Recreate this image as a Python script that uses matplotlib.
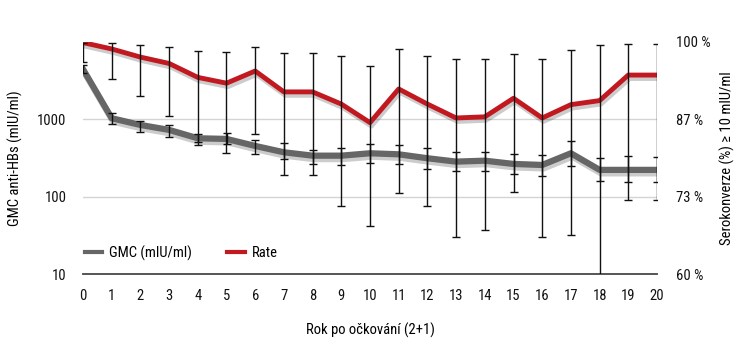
import numpy as np
import matplotlib
matplotlib.use('Agg')
import matplotlib.pyplot as plt
import matplotlib.patheffects as pe
from matplotlib import font_manager

names = {f.name for f in font_manager.fontManager.ttflist}
fam = [n for n in ['Liberation Sans Narrow', 'DejaVu Sans Condensed', 'Roboto Condensed',
                   'Liberation Sans'] if n in names]
plt.rcParams['font.family'] = fam + ['DejaVu Sans']
plt.rcParams['font.stretch'] = 'condensed'

years = list(range(21))

# GMC anti-HBs (mIU/ml) with lower / upper limits
gmc = [4450, 1033, 846, 730, 569, 558, 453, 375, 339, 339, 364,
       353, 314, 284, 292, 265, 257, 364, 222, 222, 222]
gmc_lo = [3948, 880, 693, 597, 467, 476, 357, 307, 267, 259, 275,
          267, 228, 215, 215, 197, 187, 252, 161, 156, 154]
gmc_hi = [5058, 1221, 962, 847, 647, 673, 541, 495, 405, 430, 481,
          471, 430, 382, 382, 360, 346, 526, 320, 336, 326]

# seroconversion rate (%) with lower / upper limits
rate = [99.9, 98.8, 97.4, 96.3, 93.9, 92.9, 95.0, 91.4, 91.4, 89.3, 86.1,
        91.9, 89.3, 86.9, 87.1, 90.3, 86.9, 89.2, 89.9, 94.3, 94.3]
rate_lo = [96.6, 93.7, 90.7, 87.3, 82.8, 80.9, 84.2, 77.0, 77.0, 71.8, 68.2,
           74.0, 71.8, 66.4, 67.5, 74.2, 66.4, 66.8, 58.0, 72.8, 72.8]
rate_hi = [99.9, 99.8, 99.5, 99.1, 98.5, 98.2, 99.1, 98.1, 98.1, 97.6, 95.9,
           98.8, 97.6, 97.0, 97.0, 97.9, 97.0, 98.6, 99.5, 99.6, 99.6]

gmc = np.array(gmc)
rate = np.array(rate)
gmc_err = [gmc - np.array(gmc_lo), np.array(gmc_hi) - gmc]
rate_err = [rate - np.array(rate_lo), np.array(rate_hi) - rate]

fig = plt.figure(figsize=(7.45, 3.38), dpi=100)
ax = fig.add_axes([83 / 745, 1 - 274 / 338, 574 / 745, 232 / 338])
ax2 = ax.twinx()

shadow = [pe.SimpleLineShadow(offset=(1, -2.5), alpha=0.2, shadow_color='k'), pe.Normal()]

ax.set_yscale('log')
ax.set_ylim(10, 10000)
ax.set_xlim(0, 20)
ax.set_yticks([10, 100, 1000])
ax.set_yticklabels(['10', '100', '1000'])
ax.minorticks_off()
for v in [100, 1000]:
    ax.axhline(v, color='#d4d4d4', lw=1, zorder=0)

l1, = ax.plot(years, gmc, color='#666666', lw=4.5, solid_joinstyle='round',
              path_effects=shadow, label='GMC (mIU/ml)', zorder=3)
ax.errorbar(years, gmc, yerr=gmc_err, fmt='none', ecolor='#111111',
            elinewidth=1, capsize=3, capthick=1, zorder=4)

ax2.set_ylim(60, 100)
ax2.set_yticks([60, 220 / 3, 260 / 3, 100])
ax2.set_yticklabels(['60 %', '73 %', '87 %', '100 %'])
l2, = ax2.plot(years, rate, color='#c1191f', lw=3.5, solid_joinstyle='round',
               path_effects=shadow, label='Rate', zorder=3)
ax2.errorbar(years, rate, yerr=rate_err, fmt='none', ecolor='#111111',
             elinewidth=1, capsize=3, capthick=1, zorder=4)

for a in (ax, ax2):
    for s in ['top', 'left', 'right']:
        a.spines[s].set_visible(False)
    a.spines['bottom'].set_color('#555555')
    a.spines['bottom'].set_linewidth(1.2)
    a.tick_params(length=0, labelsize=10.5, colors='#111111')

ax.set_xticks(years)
ax.tick_params(axis='x', pad=11)
ax.tick_params(axis='y', pad=12)
ax2.tick_params(axis='y', pad=14)

ax.set_xlabel('Rok po očkování (2+1)', fontsize=10.5, labelpad=14)
ax.set_ylabel('GMC anti-HBs (mIU/ml)', fontsize=10.5, labelpad=10)
ax2.set_ylabel('Serokonverze (%) ≥ 10 mIU/ml', fontsize=10.5, labelpad=6)

ax.legend([l1, l2], ['GMC (mIU/ml)', 'Rate'], ncol=2, frameon=False,
          loc='lower left', bbox_to_anchor=(-0.02, 0.0), fontsize=10.5,
          handlelength=1.2, columnspacing=2.4, handletextpad=0.5)
leg = ax.get_legend()
for h in leg.legend_handles:
    h.set_path_effects([])
    h.set_linewidth(3)

fig.savefig('out.png', dpi=100)
